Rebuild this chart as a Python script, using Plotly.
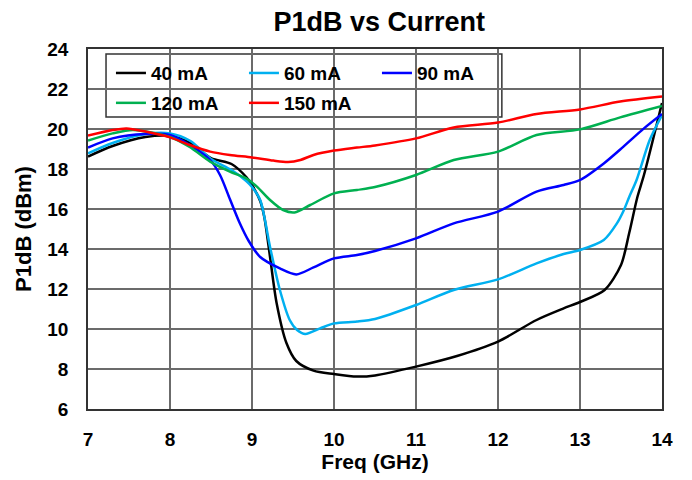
import plotly.graph_objects as go

freq_40 = [7.0, 7.3, 7.7, 8.0, 8.25, 8.5, 8.75, 8.93, 9.0, 9.1, 9.15, 9.22, 9.3, 9.42, 9.54, 9.75, 10.0, 10.28, 10.5, 11.0, 11.5, 12.0, 12.47, 12.8, 13.0, 13.3, 13.5, 13.6, 13.7, 13.78, 14.0]
p1db_40 = [18.62, 19.15, 19.6, 19.65, 19.3, 18.55, 18.25, 17.6, 17.2, 16.4, 15.6, 13.6, 11.3, 9.3, 8.4, 7.92, 7.75, 7.62, 7.68, 8.12, 8.65, 9.37, 10.45, 11.03, 11.35, 11.95, 13.2, 14.8, 16.6, 17.7, 21.3]

freq_60 = [7.0, 7.3, 7.7, 8.0, 8.25, 8.5, 8.75, 8.93, 9.0, 9.1, 9.22, 9.34, 9.46, 9.55, 9.65, 9.83, 10.0, 10.28, 10.5, 11.0, 11.46, 12.0, 12.47, 12.8, 13.0, 13.29, 13.45, 13.53, 13.6, 13.69, 13.85, 14.0]
p1db_60 = [18.78, 19.3, 19.75, 19.78, 19.4, 18.5, 17.95, 17.4, 17.1, 16.45, 14.1, 11.95, 10.45, 9.95, 9.75, 10.03, 10.28, 10.37, 10.5, 11.2, 11.95, 12.48, 13.28, 13.75, 13.95, 14.45, 15.28, 15.9, 16.6, 17.45, 19.45, 20.7]

freq_90 = [7.0, 7.3, 7.7, 8.0, 8.24, 8.49, 8.61, 8.73, 8.85, 8.96, 9.1, 9.34, 9.54, 9.75, 10.0, 10.28, 10.5, 11.0, 11.46, 12.0, 12.47, 12.8, 13.0, 13.29, 13.53, 13.78, 14.0]
p1db_90 = [19.07, 19.53, 19.75, 19.7, 19.2, 18.45, 17.7, 16.5, 15.3, 14.4, 13.6, 13.03, 12.73, 13.08, 13.53, 13.7, 13.9, 14.53, 15.28, 15.87, 16.87, 17.2, 17.45, 18.28, 19.12, 20.03, 20.75]

freq_120 = [7.0, 7.3, 7.55, 8.0, 8.24, 8.49, 8.73, 8.93, 9.06, 9.22, 9.38, 9.52, 9.71, 10.0, 10.28, 10.5, 11.0, 11.46, 12.0, 12.47, 13.0, 13.49, 14.0]
p1db_120 = [19.42, 19.78, 19.95, 19.6, 19.1, 18.37, 17.87, 17.53, 17.12, 16.45, 15.95, 15.83, 16.2, 16.78, 16.95, 17.1, 17.7, 18.45, 18.87, 19.7, 19.98, 20.58, 21.15]

freq_150 = [7.0, 7.3, 7.47, 7.7, 8.0, 8.24, 8.49, 8.73, 9.0, 9.26, 9.44, 9.59, 9.75, 10.0, 10.28, 10.5, 11.0, 11.46, 12.0, 12.47, 13.0, 13.49, 14.0]
p1db_150 = [19.67, 19.95, 20.03, 19.87, 19.58, 19.2, 18.87, 18.7, 18.58, 18.42, 18.35, 18.45, 18.7, 18.92, 19.07, 19.18, 19.53, 20.08, 20.32, 20.75, 20.98, 21.37, 21.62]

series_names = ["40 mA", "60 mA", "90 mA", "120 mA", "150 mA"]
series_colors = ["#000000", "#00B0F0", "#0000FF", "#00B050", "#FF0000"]
x_ticks = [7, 8, 9, 10, 11, 12, 13, 14]
y_ticks = [6, 8, 10, 12, 14, 16, 18, 20, 22, 24]

FONT = "Arial, Liberation Sans, sans-serif"

xs = [freq_40, freq_60, freq_90, freq_120, freq_150]
ys = [p1db_40, p1db_60, p1db_90, p1db_120, p1db_150]
legends = ["legend", "legend", "legend", "legend2", "legend2"]

fig = go.Figure()
for name, color, x, y, lg in zip(series_names, series_colors, xs, ys, legends):
    fig.add_trace(go.Scatter(x=x, y=y, mode="lines", name=f"<b>{name}</b>", legend=lg,
                             line=dict(color=color, width=2.5, shape="spline", smoothing=0.8)))

legend_common = dict(orientation="h", xanchor="left", yanchor="middle",
                     bgcolor="rgba(0,0,0,0)", borderwidth=0,
                     font=dict(family=FONT, size=19, color="black"),
                     entrywidth=88, entrywidthmode="pixels", itemwidth=30,
                     traceorder="normal")

fig.update_layout(
    width=692, height=480,
    margin=dict(l=88, r=30, t=49, b=71),
    paper_bgcolor="white", plot_bgcolor="white",
    title=dict(text="<b>P1dB vs Current</b>", x=0.548, xref="container", xanchor="center",
               y=0.956, yref="container", yanchor="middle",
               font=dict(family=FONT, size=27, color="black")),
    xaxis=dict(range=[7, 14], tickvals=x_ticks, ticktext=[f"<b>{v}</b>" for v in x_ticks],
               showgrid=True, gridcolor="#6b6b6b", gridwidth=1.5,
               showline=True, linecolor="#333333", linewidth=1.5, mirror=True,
               ticks="", ticklabelstandoff=12, zeroline=False,
               tickfont=dict(family=FONT, size=19, color="black"),
               title=dict(text="<b>Freq (GHz)</b>", standoff=4,
                          font=dict(family=FONT, size=21, color="black"))),
    yaxis=dict(range=[6, 24], tickvals=y_ticks, ticktext=[f"<b>{v}</b>" for v in y_ticks],
               showgrid=True, gridcolor="#6b6b6b", gridwidth=1.5,
               showline=True, linecolor="#333333", linewidth=1.5, mirror=True,
               ticks="", ticklabelstandoff=14, zeroline=False,
               tickfont=dict(family=FONT, size=19, color="black"),
               title=dict(text="<b>P1dB (dBm)</b>", standoff=10,
                          font=dict(family=FONT, size=22, color="black"))),
    legend=dict(x=0.04, y=0.933, **legend_common),
    legend2=dict(x=0.04, y=0.850, **legend_common),
    showlegend=True,
    shapes=[dict(type="rect", xref="paper", yref="paper",
                 x0=0.0314, x1=0.721, y0=0.811, y1=0.986,
                 line=dict(color="#333333", width=1.5), fillcolor="white", layer="between")],
)

fig.write_html("out.html", config={"displayModeBar": False},
               post_script="document.body.style.margin='0';")
